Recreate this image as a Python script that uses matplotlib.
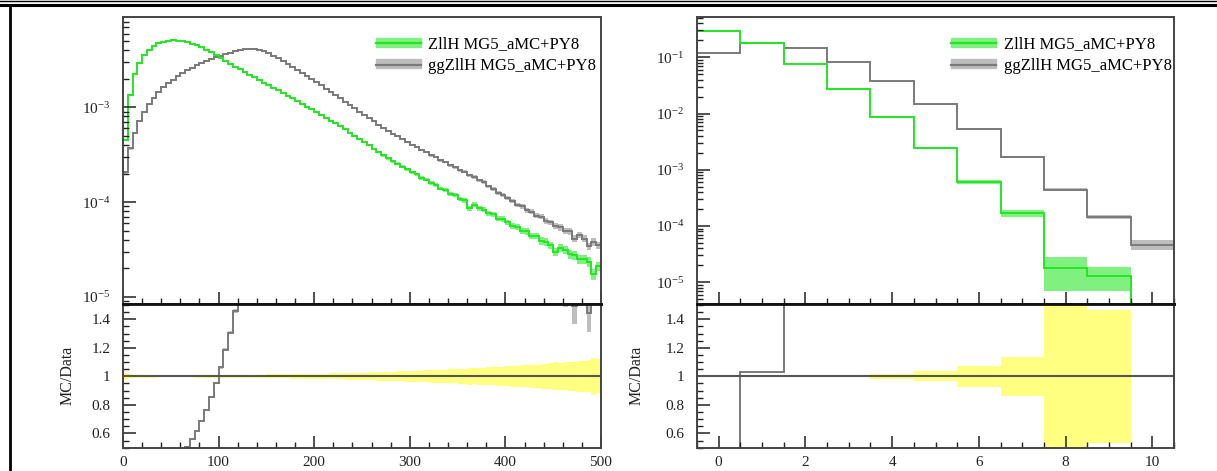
import numpy as np
import matplotlib
matplotlib.use("Agg")
import matplotlib.pyplot as plt
from matplotlib.ticker import MultipleLocator, LogLocator, NullFormatter
from matplotlib.patches import Patch
from matplotlib.lines import Line2D

plt.rcParams['font.family'] = ['Liberation Serif', 'DejaVu Serif']
plt.rcParams['mathtext.fontset'] = 'stix'

## 데이터
# 왼쪽: pT 분포, bin 폭 5 (0~500), 단위 1e-3
pt_edges = np.arange(0, 505, 5)
zllh_pt = np.array([
    0.448, 1.339, 2.231, 2.914, 3.541, 3.998, 4.407, 4.741, 4.917, 5.038,
    5.099, 5.038, 4.977, 4.858, 4.684, 4.517, 4.301, 4.047, 3.809, 3.541,
    3.292, 3.060, 2.879, 2.677, 2.519, 2.342, 2.204, 2.074, 1.928, 1.814,
    1.707, 1.607, 1.512, 1.405, 1.323, 1.245, 1.157, 1.089, 1.012, 0.953,
    0.885, 0.823, 0.775, 0.720, 0.678, 0.630, 0.586, 0.538, 0.500, 0.459,
    0.427, 0.397, 0.365, 0.339, 0.311, 0.289, 0.269, 0.253, 0.235, 0.221,
    0.206, 0.196, 0.179, 0.172, 0.158, 0.152, 0.139, 0.134, 0.121, 0.118,
    0.108, 0.104, 0.086, 0.094, 0.086, 0.083, 0.076, 0.074, 0.067, 0.066,
    0.061, 0.056, 0.055, 0.050, 0.049, 0.044, 0.044, 0.039, 0.038, 0.035,
    0.030, 0.033, 0.031, 0.028, 0.0275, 0.025, 0.025, 0.0235, 0.0175, 0.021]) * 1e-3
ggzllh_pt = np.array([
    0.206, 0.369, 0.531, 0.711, 0.885, 1.076, 1.245, 1.440, 1.626, 1.792,
    1.952, 2.125, 2.286, 2.459, 2.613, 2.777, 2.951, 3.097, 3.251, 3.373,
    3.498, 3.628, 3.763, 3.903, 3.998, 4.097, 4.147, 4.147, 4.047, 3.903,
    3.716, 3.498, 3.292, 3.060, 2.845, 2.645, 2.459, 2.286, 2.125, 1.976,
    1.837, 1.707, 1.568, 1.458, 1.339, 1.245, 1.143, 1.050, 0.976, 0.897,
    0.833, 0.765, 0.711, 0.653, 0.607, 0.565, 0.525, 0.494, 0.459, 0.432,
    0.402, 0.380, 0.352, 0.337, 0.312, 0.298, 0.276, 0.265, 0.244, 0.234,
    0.216, 0.208, 0.192, 0.184, 0.170, 0.163, 0.146, 0.137, 0.125, 0.119,
    0.110, 0.103, 0.093, 0.090, 0.082, 0.079, 0.072, 0.070, 0.063, 0.061,
    0.056, 0.054, 0.050, 0.049, 0.041, 0.045, 0.041, 0.034, 0.038, 0.035]) * 1e-3
n_events = 3.4e6   # stat. 오차 계산용 유효 이벤트 수

# 오른쪽: 다중도 분포, bin 0~10
nj_edges = np.arange(-0.5, 11.0, 1.0)
zllh_nj = np.array([0.297, 0.177, 0.075, 0.0276, 0.00877, 0.00243,
                    6.12e-4, 1.68e-4, 1.77e-5, 1.29e-5, 0.0])
zllh_nj_err = np.array([0.001, 0.001, 0.002, 0.003, 0.016, 0.035,
                        0.072, 0.135, 0.61, 0.466, 0.0])
ggzllh_nj = np.array([0.118, 0.182, 0.148, 0.0825, 0.0378, 0.0146,
                      0.00524, 0.00168, 4.45e-4, 1.44e-4, 4.6e-5])
ggzllh_nj_err = np.array([0.004, 0.004, 0.004, 0.005, 0.008, 0.012,
                          0.02, 0.03, 0.05, 0.07, 0.2])

labels = ['ZllH MG5_aMC+PY8', 'ggZllH MG5_aMC+PY8']
c_green, c_green_band = '#22e622', '#80f080'
c_gray, c_gray_band = '#7a7a7a', '#bdbdbd'
c_yellow = '#ffff80'

W, H = 1217, 471
fig = plt.figure(figsize=(W / 100, H / 100), dpi=100)

# 바깥 테두리
fig.add_artist(Line2D([0, 1], [1 - 0.8 / H] * 2, color='k', lw=1.0))
fig.add_artist(Line2D([0, 1], [1 - 5 / H] * 2, color='k', lw=2.2))
fig.add_artist(Line2D([9.5 / W] * 2, [0, 1 - 5 / H], color='k', lw=2.0))


def style_axes(ax):
    for s in ax.spines.values():
        s.set_color('#444444')
        s.set_linewidth(1.4)
    ax.tick_params(which='both', direction='in', top=False, right=False,
                   labelsize=11, colors='#222222')
    ax.tick_params(which='major', length=9, width=1.1)
    ax.tick_params(which='minor', length=4.5, width=1.0)


def draw_hist(ax, edges, vals, rel, color, band):
    lo = np.clip(vals * (1 - rel), 1e-12, None)
    hi = np.clip(vals * (1 + rel), 1e-12, None)
    ax.stairs(hi, edges, baseline=lo, fill=True, color=band, lw=0)
    ax.stairs(np.clip(vals, 1e-12, None), edges, baseline=None, color=color, lw=1.4)


def panel(x0, x1, edges, a, a_err, b, b_err, xlim, ylim, xmaj, xmin, lab_x, leg_x):
    left, right = x0 / W, x1 / W
    top, mid, bot = 1 - 17 / H, 1 - 304 / H, 1 - 447.7 / H
    ax = fig.add_axes([left, mid, right - left, top - mid])
    rx = fig.add_axes([left, bot, right - left, mid - bot], sharex=ax)

    draw_hist(ax, edges, b, b_err, c_gray, c_gray_band)
    draw_hist(ax, edges, a, a_err, c_green, c_green_band)
    ax.set_yscale('log')
    ax.set_xlim(*xlim)
    ax.set_ylim(*ylim)
    ax.yaxis.set_minor_locator(LogLocator(base=10, subs=np.arange(2, 10)))
    ax.yaxis.set_minor_formatter(NullFormatter())
    style_axes(ax)
    ax.tick_params(axis='x', labelbottom=False)
    ax.tick_params(axis='y', pad=9)
    ax.spines['bottom'].set_color('#111111')
    ax.spines['bottom'].set_linewidth(2.0)

    # 비율 패널
    ok = a > 0
    rx.stairs(np.where(ok, 1 + a_err, 1), edges, baseline=np.where(ok, 1 - a_err, 1),
              fill=True, color=c_yellow, lw=0)
    ratio = np.divide(b, a, out=np.zeros_like(b), where=ok)
    n = ok.sum()
    rx.stairs(ratio[:n] * (1 + b_err[:n]), edges[:n + 1], baseline=ratio[:n] * (1 - b_err[:n]),
              fill=True, color=c_gray_band, lw=0)
    rx.axhline(1, color='#555555', lw=1.5)
    rx.stairs(ratio[:n], edges[:n + 1], baseline=None, color=c_gray, lw=1.4)
    rx.set_ylim(0.5, 1.507)
    rx.yaxis.set_minor_locator(MultipleLocator(0.05))
    rx.set_yticks([0.6, 0.8, 1.0, 1.2, 1.4])
    rx.set_yticklabels(['0.6', '0.8', '1', '1.2', '1.4'])
    rx.xaxis.set_major_locator(MultipleLocator(xmaj))
    rx.xaxis.set_minor_locator(MultipleLocator(xmin))
    style_axes(rx)
    rx.spines['top'].set_color('#111111')
    rx.spines['top'].set_linewidth(2.0)
    rx.tick_params(axis='y', pad=9)
    rx.tick_params(axis='x', pad=6)
    rx.set_ylabel('MC/Data', fontsize=11.5, color='#222222')
    rx.yaxis.set_label_coords(lab_x, 0.5)

    handles = [(Patch(color=c_green_band), Line2D([], [], color=c_green, lw=1.6)),
               (Patch(color=c_gray_band), Line2D([], [], color=c_gray, lw=1.6))]
    fig.legend(handles, labels, loc='upper left', bbox_to_anchor=(leg_x / W, 1 - 36 / H),
               frameon=False, fontsize=12, handlelength=2.7, handleheight=0.45,
               handletextpad=0.45, labelspacing=0.35, borderpad=0, borderaxespad=0)
    return ax, rx


panel(123, 601, pt_edges, zllh_pt, 1 / np.sqrt(zllh_pt * n_events),
      ggzllh_pt, 1 / np.sqrt(ggzllh_pt * n_events),
      (0, 500), (8.4e-6, 8.97e-3), 100, 20, -0.10, 376)
panel(697, 1174, nj_edges, zllh_nj, zllh_nj_err, ggzllh_nj, ggzllh_nj_err,
      (-0.5, 10.5), (4.1e-6, 0.52), 2, 0.5, -0.11, 951)

fig.savefig('out.png', dpi=100)
